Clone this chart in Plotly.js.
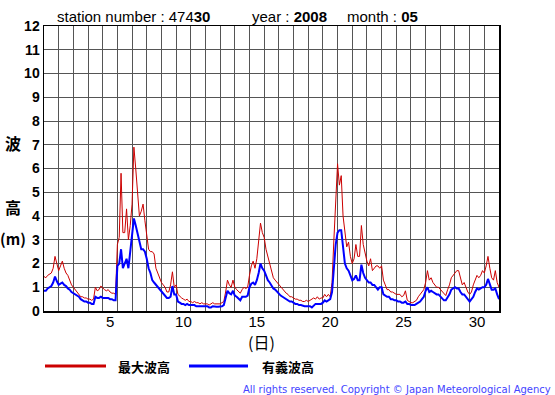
<!DOCTYPE html>
<html><head><meta charset="utf-8">
<script src="https://cdn.plot.ly/plotly-3.0.1.min.js"></script>
<style>html,body{margin:0;padding:0;background:#fff}</style>
</head><body><div id="chart" style="width:555px;height:395px"></div>
<script>
// 3-hourly readings, 8 per day, 1 May 00h .. 1 June 00h
const maxWave = [
 1.45,1.4,1.5,1.55,1.6,1.8,2.3,2.0,
 1.7,1.9,2.1,1.8,1.6,1.5,1.3,1.1,
 1.0,0.9,0.8,0.75,0.6,0.6,0.55,0.55,
 0.5,0.5,0.45,0.5,1.0,0.85,0.9,1.05,
 0.95,0.9,0.85,0.9,0.8,0.75,0.75,0.7,
 2.8,3.1,5.8,3.3,3.3,4.3,3.0,3.6,
 4.5,6.9,6.0,4.8,4.0,4.2,4.5,3.8,
 3.2,2.6,2.5,2.5,2.4,1.8,1.6,1.4,
 1.2,1.1,1.0,0.8,0.8,1.1,1.65,1.0,
 1.1,0.7,0.6,0.55,0.5,0.45,0.5,0.4,
 0.4,0.35,0.4,0.35,0.35,0.3,0.35,0.3,
 0.3,0.3,0.25,0.3,0.35,0.3,0.3,0.3,
 0.3,0.35,0.4,0.8,1.3,1.1,1.0,1.3,
 1.0,0.9,0.8,0.75,0.9,1.0,0.95,1.0,
 1.5,1.9,2.1,1.8,2.2,2.9,3.7,3.3,
 3.1,2.6,2.3,2.0,1.6,1.4,1.3,1.2,
 1.1,1.0,0.9,0.8,0.75,0.7,0.6,0.6,
 0.55,0.5,0.5,0.45,0.45,0.4,0.4,0.45,
 0.4,0.45,0.5,0.55,0.5,0.6,0.5,0.55,
 0.55,0.7,0.6,0.7,0.6,1.2,3.0,5.0,
 6.2,5.3,5.7,4.0,3.2,2.7,2.9,2.3,
 2.0,2.2,2.8,2.3,2.3,3.6,2.8,2.4,
 2.1,1.9,2.2,1.7,1.8,1.9,1.9,1.8,
 1.9,1.3,1.1,0.9,0.9,0.8,0.8,0.75,
 0.7,0.7,0.7,0.6,0.65,0.85,0.45,0.4,
 0.35,0.35,0.4,0.45,0.6,0.7,0.8,0.9,
 1.2,1.7,1.3,1.4,1.2,1.1,1.0,1.0,
 0.9,0.8,0.7,0.65,0.9,1.1,1.4,1.5,
 1.6,1.7,1.7,1.4,1.1,1.2,1.0,0.8,
 0.7,0.8,1.1,1.3,1.5,1.4,1.5,1.7,
 1.6,1.9,2.3,1.8,1.4,1.3,1.7,1.2,
 1.0
];
const sigWave = [
 0.85,0.85,0.95,1.0,1.05,1.2,1.45,1.25,
 1.1,1.15,1.2,1.1,1.05,0.95,0.9,0.8,
 0.75,0.7,0.65,0.6,0.5,0.45,0.4,0.4,
 0.35,0.35,0.3,0.3,0.6,0.55,0.55,0.6,
 0.55,0.55,0.55,0.55,0.5,0.5,0.45,0.45,
 1.9,2.0,2.6,1.8,2.0,2.2,1.8,2.5,
 3.2,3.9,3.6,3.3,3.0,2.6,2.6,2.5,
 2.2,1.8,1.6,1.3,1.2,1.1,1.0,0.9,
 0.8,0.7,0.6,0.55,0.55,0.6,1.05,0.7,
 0.7,0.4,0.35,0.3,0.3,0.25,0.3,0.25,
 0.25,0.25,0.25,0.2,0.2,0.2,0.2,0.2,
 0.2,0.2,0.15,0.15,0.2,0.18,0.18,0.18,
 0.18,0.2,0.25,0.55,0.85,0.75,0.7,0.85,
 0.65,0.6,0.5,0.45,0.6,0.6,0.6,0.65,
 1.0,1.15,1.2,1.1,1.3,1.6,2.0,1.8,
 1.7,1.5,1.3,1.2,1.05,0.95,0.9,0.8,
 0.75,0.65,0.6,0.55,0.5,0.45,0.4,0.4,
 0.35,0.3,0.3,0.25,0.25,0.22,0.2,0.2,
 0.2,0.2,0.15,0.25,0.3,0.3,0.3,0.3,
 0.35,0.45,0.4,0.45,0.5,0.8,2.0,2.8,
 3.3,3.4,3.4,2.8,2.0,1.8,1.7,1.5,
 1.3,1.35,1.5,1.3,1.3,1.95,1.6,1.4,
 1.3,1.2,1.2,1.1,1.1,1.0,0.9,1.0,
 1.0,0.7,0.65,0.6,0.6,0.5,0.5,0.45,
 0.45,0.4,0.4,0.35,0.35,0.4,0.3,0.3,
 0.25,0.25,0.25,0.3,0.35,0.4,0.5,0.6,
 0.85,1.0,0.8,0.85,0.8,0.75,0.7,0.7,
 0.6,0.5,0.45,0.45,0.55,0.7,0.9,0.95,
 1.0,0.95,0.95,0.8,0.7,0.7,0.6,0.45,
 0.4,0.5,0.6,0.8,0.95,0.9,0.95,1.0,
 1.0,1.1,1.35,1.1,0.9,0.9,0.95,0.7,
 0.5
];
const tickDays = [5,10,15,20,25,30];
const stepsPerDay = 8;
const times = maxWave.map((_, i) => 1 + i / stepsPerDay);

const traces = [
  {x: times, y: maxWave, type: 'scatter', mode: 'lines', line: {color: '#cc0000', width: 1}, hoverinfo: 'skip'},
  {x: times, y: sigWave, type: 'scatter', mode: 'lines', line: {color: '#0000ff', width: 2}, hoverinfo: 'skip'},
  {x: [1], y: [0], xaxis: 'x2', type: 'scatter', mode: 'markers', marker: {opacity: 0}, hoverinfo: 'skip'}
];

const L = 44, R = 499, T = 26, B = 311;
const px = x => (x - L) / (R - L);
const py = y => (B - y) / (B - T);
const cjk = '"Noto Sans CJK JP", sans-serif';
const sans = '"Liberation Sans", Arial, sans-serif';

const layout = {
  width: 555, height: 395,
  margin: {l: L, r: 555 - R, t: T, b: 395 - B, pad: 0},
  paper_bgcolor: '#fff', plot_bgcolor: '#fff',
  showlegend: false,
  xaxis: {range: [1, 32], tick0: 1, dtick: 1, showgrid: true, gridcolor: '#555', gridwidth: 1,
          showticklabels: false, ticks: '', zeroline: false, showline: true, linecolor: '#000',
          linewidth: 1.5, mirror: true, fixedrange: true},
  xaxis2: {overlaying: 'x', anchor: 'y', side: 'bottom', range: [1, 32], tickmode: 'array',
           tickvals: tickDays.map(d => d + 0.5), ticktext: tickDays.map(String),
           showgrid: false, zeroline: false, showline: false, ticks: '',
           tickfont: {family: sans, size: 15, color: '#000'}, fixedrange: true},
  yaxis: {range: [0, 12], dtick: 1, showgrid: true, gridcolor: '#555', gridwidth: 1,
          ticks: '', zeroline: false, showline: true, linecolor: '#000', linewidth: 1.5, mirror: true,
          tickfont: {family: sans, size: 14, color: '#000', weight: 'bold'}, fixedrange: true},
  shapes: [
    {type: 'line', xref: 'paper', yref: 'paper', x0: px(45), x1: px(106), y0: py(366), y1: py(366), line: {color: '#cc0000', width: 3}},
    {type: 'line', xref: 'paper', yref: 'paper', x0: px(189), x1: px(248), y0: py(366), y1: py(366), line: {color: '#0000ff', width: 3}}
  ],
  annotations: [
    {text: 'station number : 474<b>30</b>', x: px(55), y: py(17), xanchor: 'left', yanchor: 'middle', font: {family: sans, size: 15, color: '#000'}},
    {text: 'year : <b>2008</b>', x: px(250), y: py(17), xanchor: 'left', yanchor: 'middle', font: {family: sans, size: 15, color: '#000'}},
    {text: 'month : <b>05</b>', x: px(345), y: py(17), xanchor: 'left', yanchor: 'middle', font: {family: sans, size: 15, color: '#000'}},
    {text: '<b>波</b>', x: px(13), y: py(143), xanchor: 'center', yanchor: 'middle', font: {family: cjk, size: 16, color: '#000'}},
    {text: '<b>高</b>', x: px(13), y: py(207), xanchor: 'center', yanchor: 'middle', font: {family: cjk, size: 16, color: '#000'}},
    {text: '<b>(m)</b>', x: px(13), y: py(238), xanchor: 'center', yanchor: 'middle', font: {family: cjk, size: 15, color: '#000'}},
    {text: '(日)', x: px(261), y: py(342), xanchor: 'center', yanchor: 'middle', font: {family: cjk, size: 16, color: '#000'}},
    {text: '<b>最大波高</b>', x: px(116), y: py(366), xanchor: 'left', yanchor: 'middle', font: {family: cjk, size: 13, color: '#000'}},
    {text: '<b>有義波高</b>', x: px(260), y: py(366), xanchor: 'left', yanchor: 'middle', font: {family: cjk, size: 13, color: '#000'}},
    {text: 'All rights reserved. Copyright © Japan Meteorological Agency', x: px(553), y: py(389), xanchor: 'right', yanchor: 'middle', font: {family: '"DejaVu Sans", Verdana, sans-serif', size: 10, color: '#4444ff'}}
  ].map(a => Object.assign({xref: 'paper', yref: 'paper', showarrow: false}, a))
};

Plotly.newPlot('chart', traces, layout, {displayModeBar: false, staticPlot: true});
</script></body></html>
